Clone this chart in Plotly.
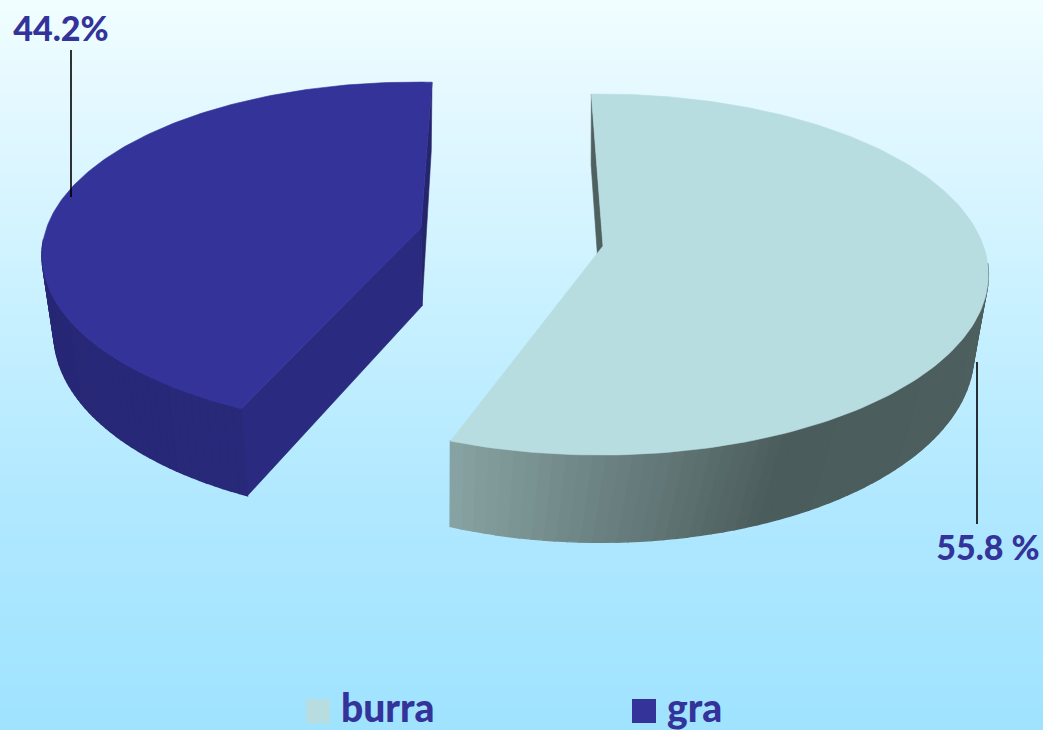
import numpy as np
import plotly.graph_objects as go

# ---------- data ----------
categories = ["burra", "gra"]
shares = [55.8, 44.2]
value_labels = ["55.8 %", "44.2%"]

# ---------- style / view (pixel space of the 1043x730 page) ----------
W, H = 1043, 730
TEXT = "#333399"
FONT = "Lato"
top_colors = {"burra": "#b8dde0", "gra": "#333399"}
side_ramps = {
    "burra": [(0.0, (79, 96, 96)), (0.45, (79, 96, 96)), (0.78, (75, 92, 92)), (1.0, (136, 163, 163))],
    "gra": [(0.0, (41, 41, 122)), (0.45, (38, 38, 116)), (0.75, (42, 42, 124)), (1.0, (45, 45, 130))],
}
inner_colors = {"burra": "#4f6060", "gra": "#25256c"}
start_wall_gra = "#2a2a80"

# view of each slice: rim centre x, apex, projection strength per plane
views = {
    "burra": {
        "top": dict(cx=600, cy=246, apex=(603, 246), A=176, B=383.5, k=0.158, rot=-1.5, fix=0.0),
        "bot": dict(cx=600, cy=335, apex=(603, 335), A=187, B=372, k=0.098, rot=-1.5, fix=2.1),
    },
    "gra": {
        "top": dict(cx=415.3, cy=228, apex=(421, 228), A=169, B=368.7, k=0.158, rot=3.0, fix=0.0),
        "bot": dict(cx=415, cy=306, apex=(422, 306), A=179, B=357, k=0.15, rot=3.0, fix=0.0),
    },
}


def rim(f, span, p):
    """Rim point at fraction f of a slice's span, on one plane of the view."""
    theta = span[0] + p["rot"] + np.asarray(f) * (span[1] - span[0] + p["fix"])
    t = np.radians(theta)
    s, c = np.sin(t), np.cos(t)
    w = 1 + p["k"] * c
    return p["cx"] + p["B"] * s / w, p["cy"] - p["A"] * c / w


def ramp(ramp_stops, f):
    for (f0, c0), (f1, c1) in zip(ramp_stops, ramp_stops[1:]):
        if f <= f1:
            u = (f - f0) / (f1 - f0)
            return "rgb(%d,%d,%d)" % tuple(round(a + (b - a) * u) for a, b in zip(c0, c1))
    return "rgb(%d,%d,%d)" % ramp_stops[-1][1]


def poly(fig, xs, ys, color, name=None, lw=0.6):
    fig.add_trace(go.Scatter(
        x=list(xs) + [xs[0]], y=list(ys) + [ys[0]], mode="lines", fill="toself",
        fillcolor=color, line=dict(color=color, width=lw),
        hoverinfo="skip" if name is None else "text", text=name,
        showlegend=False, name=name or "",
    ))


fig = go.Figure()

# slices run clockwise from 12 o'clock
edges = np.concatenate([[0], np.cumsum(shares)]) * 3.6
spans = {cat: (edges[i], edges[i + 1]) for i, cat in enumerate(categories)}

for cat in categories:
    v = views[cat]
    sp = spans[cat]
    top, bot = v["top"], v["bot"]

    # flat walls along the cuts
    tsx, tsy = rim(0, sp, top)
    bsx, bsy = rim(0, sp, bot)
    tex, tey = rim(1, sp, top)
    bex, bey = rim(1, sp, bot)
    start_col = inner_colors["burra"] if cat == "burra" else start_wall_gra
    poly(fig, [tsx, bsx, bot["apex"][0], top["apex"][0]],
         [tsy, bsy, bot["apex"][1], top["apex"][1]], start_col)
    if cat == "gra":
        poly(fig, [tex, bex, bot["apex"][0], top["apex"][0]],
             [tey, bey, bot["apex"][1], top["apex"][1]], inner_colors["gra"])

    # curved outer wall in narrow strips: only the front part can be seen
    fr = np.linspace(0, 1, 121)
    for f0, f1 in zip(fr[:-1], fr[1:]):
        mid = sp[0] + (f0 + f1) / 2 * (sp[1] - sp[0])
        if np.cos(np.radians(mid)) > -0.12:
            continue
        x00, y00 = rim(f0, sp, top)
        x01, y01 = rim(f1, sp, top)
        x10, y10 = rim(f0, sp, bot)
        x11, y11 = rim(f1, sp, bot)
        poly(fig, [x00, x01, x11, x10], [y00, y01, y11, y10], ramp(side_ramps[cat], (f0 + f1) / 2), lw=1.4)

    # top face
    xs, ys = rim(np.linspace(0, 1, 180), sp, top)
    poly(fig, list(xs) + [top["apex"][0]], list(ys) + [top["apex"][1]], top_colors[cat], name=cat)

# leader lines and value labels
leaders = {"burra": ((977, 362), (977, 524)), "gra": ((71, 50), (71, 197))}
label_pos = {"burra": (988, 551), "gra": (61, 32)}
for cat, lab in zip(categories, value_labels):
    (x0, y0), (x1, y1) = leaders[cat]
    fig.add_trace(go.Scatter(x=[x0, x1], y=[y0, y1], mode="lines", line=dict(color="#000000", width=1.6),
                             hoverinfo="skip", showlegend=False))
    fig.add_trace(go.Scatter(x=[label_pos[cat][0]], y=[label_pos[cat][1]], mode="text", text=[lab],
                             textposition="middle center",
                             textfont=dict(family=FONT, size=34, color=TEXT, weight=900),
                             hoverinfo="skip", showlegend=False))

# legend row
legend_x = {"burra": 318, "gra": 644}
for cat in categories:
    fig.add_trace(go.Scatter(x=[legend_x[cat]], y=[711], mode="markers",
                             marker=dict(symbol="square", size=24, color=top_colors[cat]),
                             hoverinfo="skip", showlegend=False))
    fig.add_trace(go.Scatter(x=[legend_x[cat] + 23], y=[712], mode="text", text=[cat],
                             textposition="middle right",
                             textfont=dict(family=FONT, size=39, color=TEXT, weight=900),
                             hoverinfo="skip", showlegend=False))

# background: vertical wash
stops_y = [0, 100, 300, 500, 730]
stops_c = [(240, 254, 255), (228, 248, 255), (201, 241, 255), (176, 232, 255), (159, 227, 255)]
shapes = []
for y in range(0, H, 4):
    col = [np.interp(y, stops_y, [c[i] for c in stops_c]) for i in range(3)]
    shapes.append(dict(type="rect", xref="x", yref="y", x0=0, x1=W, y0=y, y1=H, layer="below",
                       line=dict(width=0), fillcolor="rgb(%d,%d,%d)" % tuple(round(v) for v in col)))

fig.update_layout(
    width=W, height=H, margin=dict(l=0, r=0, t=0, b=0), showlegend=False,
    paper_bgcolor="#c9f1ff", plot_bgcolor="rgba(0,0,0,0)", shapes=shapes,
    xaxis=dict(range=[0, W], visible=False, fixedrange=True),
    yaxis=dict(range=[H, 0], visible=False, fixedrange=True),
)
fig.write_html("out.html", post_script="document.body.style.margin='0';",
               config={"displayModeBar": False})
